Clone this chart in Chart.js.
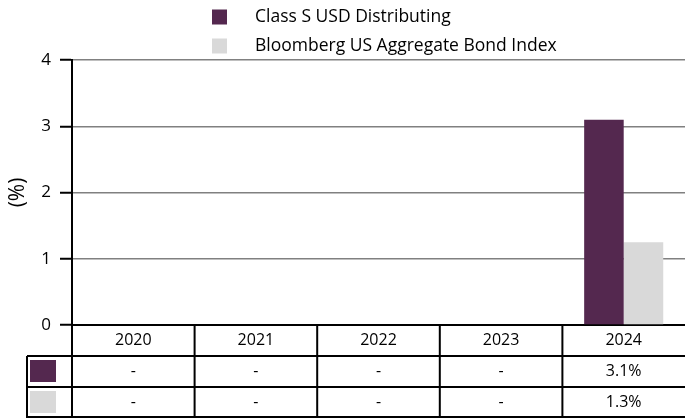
<!DOCTYPE html>
<html>
<head>
<meta charset="utf-8">
<script src="https://cdn.jsdelivr.net/npm/chart.js"></script>
<style>
  html, body { margin: 0; padding: 0; background: #fff; }
</style>
</head>
<body>
<canvas id="chart" width="685" height="418"></canvas>
<script>
const years = ['2020', '2021', '2022', '2023', '2024'];
const seriesNames = ['Class S USD Distributing', 'Bloomberg US Aggregate Bond Index'];
const fundValues = [null, null, null, null, 3.1];
const indexValues = [null, null, null, null, 1.25];
const fundLabels = ['-', '-', '-', '-', '3.1%'];
const indexLabels = ['-', '-', '-', '-', '1.3%'];
const yTicks = [0, 1, 2, 3, 4];

const FONT = '"Open Sans", sans-serif';
const colors = ['#54284f', '#d9d9d9'];

// legend + table drawn by hand, positions taken from the x scale
const tablePlugin = {
  id: 'tableAndLegend',
  afterDraw(chart) {
    const { ctx, chartArea } = chart;
    const x = chart.scales.x;
    const top = chartArea.bottom;
    const rowH = 31;
    const half = (x.getPixelForValue(1) - x.getPixelForValue(0)) / 2;
    const rows = [years, fundLabels, indexLabels];
    ctx.save();
    ctx.strokeStyle = '#000';
    ctx.lineWidth = 2;
    ctx.beginPath();
    // horizontal lines
    for (let r = 1; r <= 3; r++) {
      const y = Math.min(top + r * rowH, chart.height - 1);
      ctx.moveTo(27, y);
      ctx.lineTo(chart.width, y);
    }
    // left border of swatch column
    ctx.moveTo(27, top + rowH);
    ctx.lineTo(27, chart.height);
    // column lines
    years.forEach((_, i) => {
      const xl = x.getPixelForValue(i) - half;
      ctx.moveTo(xl, top);
      ctx.lineTo(xl, chart.height);
    });
    ctx.stroke();

    // swatches in the table
    colors.forEach((c, i) => {
      ctx.fillStyle = c;
      ctx.fillRect(30, top + (i + 1) * rowH + 4, 26, 22);
    });

    // cell texts
    ctx.fillStyle = '#000';
    ctx.font = '16px ' + FONT;
    ctx.textAlign = 'center';
    ctx.textBaseline = 'middle';
    rows.forEach((row, r) => {
      row.forEach((t, i) => {
        ctx.fillText(t, x.getPixelForValue(i), top + r * rowH + rowH / 2);
      });
    });

    // legend
    ctx.textAlign = 'left';
    ctx.font = '17.5px ' + FONT;
    chart.data.datasets.forEach((ds, i) => {
      const cy = 17 + i * 29;
      ctx.fillStyle = ds.backgroundColor;
      ctx.fillRect(212, cy - 7.5, 15, 15);
      ctx.fillStyle = '#000';
      ctx.fillText(ds.label, 255, cy);
    });
    ctx.restore();
  }
};

new Chart(document.getElementById('chart'), {
  type: 'bar',
  data: {
    labels: years,
    datasets: [{
      label: seriesNames[0],
      data: fundValues,
      backgroundColor: colors[0],
      categoryPercentage: 0.645,
      barPercentage: 1,
    }, {
      label: seriesNames[1],
      data: indexValues,
      backgroundColor: colors[1],
      categoryPercentage: 0.645,
      barPercentage: 1,
    }],
  },
  options: {
    responsive: false,
    animation: false,
    layout: { padding: { top: 60, bottom: 93, left: 0, right: 0 } },
    plugins: {
      legend: { display: false },
      tooltip: { enabled: false },
    },
    scales: {
      x: {
        ticks: { display: false },
        grid: { display: false },
        border: { display: true, color: '#000', width: 2 },
        afterFit: (s) => { s.height = 0; },
      },
      y: {
        min: 0,
        max: 4,
        afterBuildTicks: (s) => { s.ticks = yTicks.map((v) => ({ value: v })); },
        ticks: { color: '#000', font: { family: FONT, size: 17 }, padding: 9 },
        grid: { color: '#808080', lineWidth: 1.5, tickColor: '#000', tickLength: 12, tickWidth: 2 },
        border: { display: true, color: '#000', width: 2 },
        title: {
          display: true,
          text: '(%)',
          color: '#000',
          font: { family: FONT, size: 21 },
          padding: { top: 5, bottom: 0 },
        },
        afterFit: (s) => { s.width = 72; },
      },
    },
  },
  plugins: [tablePlugin],
});
</script>
</body>
</html>
